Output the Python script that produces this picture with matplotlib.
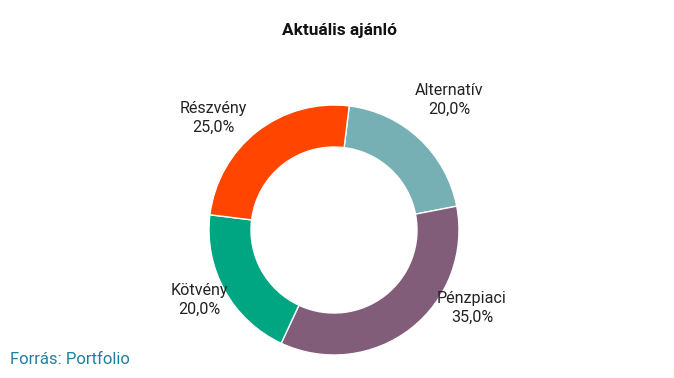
import os
import matplotlib.pyplot as plt
import matplotlib.font_manager as fm

categories = ['Alternatív', 'Pénzpiaci', 'Kötvény', 'Részvény']
shares = [20.0, 35.0, 20.0, 25.0]
colors = ['#76afb4', '#825d7a', '#00a582', '#ff4500']

# label anchor points in pixels (x, y from top)
label_pos = [(449, 100), (472, 308), (199, 300), (213, 118)]

ROBOTO_DIR = '/usr/share/fonts/truetype/roboto/unhinted/RobotoTTF/'


def roboto(fname, weight):
    path = ROBOTO_DIR + fname
    if os.path.exists(path):
        return fm.FontProperties(fname=path)
    return fm.FontProperties(family='Roboto', weight=weight)


reg = roboto('Roboto-Regular.ttf', 'normal')
bold = roboto('Roboto-Bold.ttf', 'bold')

fig = plt.figure(figsize=(6.74, 3.78), dpi=100)
ax = fig.add_axes([0, 0, 1, 1])

ax.pie(shares, colors=colors, center=(334, 148), radius=125,
       startangle=83, counterclock=False,
       wedgeprops=dict(width=42, edgecolor='white', linewidth=1))

for name, val, (x, y) in zip(categories, shares, label_pos):
    txt = name + '\n' + f'{val:.1f}%'.replace('.', ',')
    ax.text(x, 378 - y, txt, ha='center', va='center', fontproperties=reg,
            fontsize=11.6, color='#222222', linespacing=1.3)

ax.set_xlim(0, 674)
ax.set_ylim(0, 378)
ax.set_aspect('equal')
ax.axis('off')

fig.text(339 / 674, 1 - 30 / 378, 'Aktuális ajánló', ha='center', va='center',
         fontproperties=bold, fontsize=12.4, color='#111111')
fig.text(10 / 674, 1 - 360 / 378, 'Forrás: Portfolio', ha='left', va='center',
         fontproperties=reg, fontsize=12, color='#1d7fa0')

fig.savefig('out.png', dpi=100)
